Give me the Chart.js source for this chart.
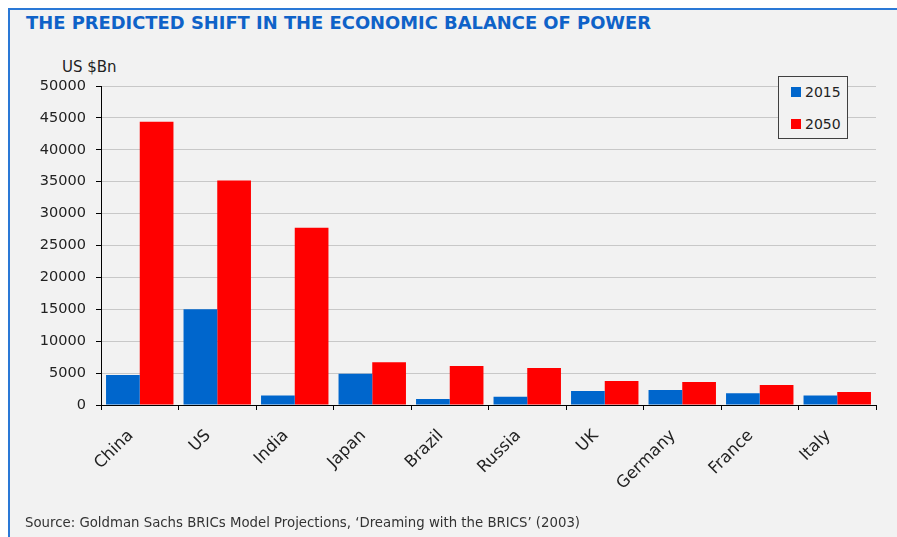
<!DOCTYPE html>
<html>
<head>
<meta charset="utf-8">
<script src="https://cdn.jsdelivr.net/npm/chart.js@4.4.1/dist/chart.umd.min.js"></script>
<style>
  html, body { margin:0; padding:0; background:#ffffff; }
  body { width:897px; height:537px; position:relative; overflow:hidden; font-family:"DejaVu Sans", sans-serif; }
  #frame { position:absolute; left:8px; top:8px; width:900px; height:540px; background:#f2f2f2;
           border-left:2px solid #2a78d6; border-top:2px solid #2a78d6; }
  #title { position:absolute; left:26px; top:14.3px; font-size:17.9px; line-height:1; font-weight:bold; color:#0f62c8; white-space:nowrap; }
  #unit { position:absolute; left:62px; top:59.5px; font-size:15px; line-height:1; color:#222; white-space:nowrap; }
  #source { position:absolute; left:25px; top:515.5px; font-size:13.3px; line-height:1; color:#333; white-space:nowrap; }
  #chart { position:absolute; left:0; top:0; }
  #legend { position:absolute; left:778px; top:76px; width:68px; height:61px; border:1px solid #404040; background:#f2f2f2; }
  .li { position:absolute; left:12px; height:14px; font-size:14px; line-height:14px; color:#222; white-space:nowrap; }
  .sw { display:inline-block; width:10px; height:10px; vertical-align:top; margin-top:2px; margin-right:4px; }
</style>
</head>
<body>
<div id="frame"></div>
<div id="title">THE PREDICTED SHIFT IN THE ECONOMIC BALANCE OF POWER</div>
<div id="unit">US $Bn</div>
<canvas id="chart" width="897" height="537"></canvas>
<div id="legend"></div>
<div id="source">Source: Goldman Sachs BRICs Model Projections, ‘Dreaming with the BRICS’ (2003)</div>
<script>
const categories = ["China", "US", "India", "Japan", "Brazil", "Russia", "UK", "Germany", "France", "Italy"];
const seriesNames = ["2015", "2050"];
const values2015 = [4700, 15000, 1500, 4900, 950, 1300, 2200, 2350, 1850, 1500];
const values2050 = [44400, 35200, 27800, 6700, 6100, 5800, 3750, 3600, 3150, 2050];
const yTicks = [0, 5000, 10000, 15000, 20000, 25000, 30000, 35000, 40000, 45000, 50000];
const colors = ["#0066cc", "#ff0000"];

const datasets = [values2015, values2050].map((v, i) => ({
  label: seriesNames[i],
  data: v,
  backgroundColor: colors[i],
  borderWidth: 0,
  categoryPercentage: 0.87,
  barPercentage: 1.0
}));

new Chart(document.getElementById('chart'), {
  type: 'bar',
  data: { labels: categories, datasets: datasets },
  options: {
    responsive: false,
    devicePixelRatio: 1,
    animation: false,
    layout: { padding: { left: 0, top: 86, right: 21, bottom: 0 } },
    plugins: { legend: { display: false }, tooltip: { enabled: false } },
    scales: {
      x: {
        grid: { display: true, drawOnChartArea: false, drawTicks: true, tickLength: 5, tickColor: '#000', offset: true },
        border: { display: true, color: '#000', width: 1 },
        ticks: { font: { family: "DejaVu Sans", size: 16.5 }, color: '#222', autoSkip: false, maxRotation: 45, minRotation: 45, padding: 16, labelOffset: -9 },
        afterFit: (s) => { s.height = 132; }
      },
      y: {
        min: 0, max: 50000,
        afterBuildTicks: (s) => { s.ticks = yTicks.map(v => ({ value: v })); },
        grid: { color: '#c8c8c8', lineWidth: 1, drawTicks: true, tickLength: 5, tickColor: '#000' },
        border: { display: true, color: '#000', width: 1 },
        ticks: { font: { family: "DejaVu Sans", size: 14.5 }, color: '#222', padding: 10, callback: (v) => String(v) },
        afterFit: (s) => { s.width = 101; }
      }
    }
  }
});

const leg = document.getElementById('legend');
seriesNames.forEach((n, i) => {
  const d = document.createElement('div');
  d.className = 'li';
  d.style.top = (8 + i * 32) + 'px';
  d.innerHTML = '<span class="sw" style="background:' + colors[i] + '"></span>' + n;
  leg.appendChild(d);
});
</script>
</body>
</html>
